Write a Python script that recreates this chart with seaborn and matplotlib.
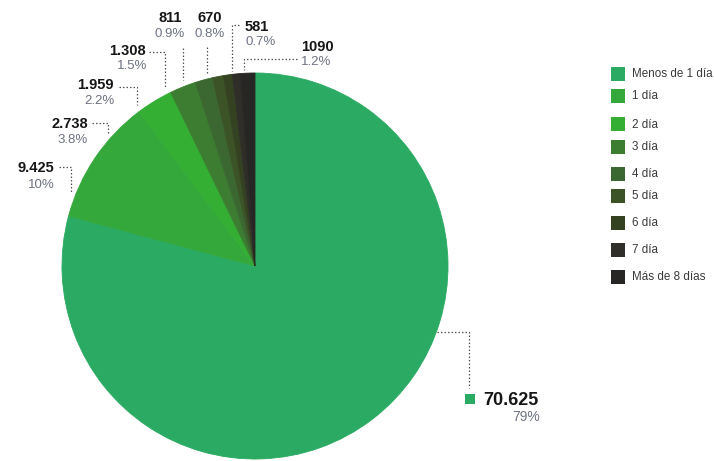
import matplotlib
matplotlib.use("Agg")
import matplotlib.pyplot as plt
import matplotlib.patches as mpatches
import seaborn as sns

# Data: days elapsed, case counts and the published percentages
categories = ["Menos de 1 día", "1 día", "2 día", "3 día", "4 día",
              "5 día", "6 día", "7 día", "Más de 8 días"]
counts = [70625, 9425, 2738, 1959, 1308, 811, 670, 581, 1090]
count_labels = ["70.625", "9.425", "2.738", "1.959", "1.308",
                "811", "670", "581", "1090"]
pct_labels = ["79%", "10%", "3.8%", "2.2%", "1.5%",
              "0.9%", "0.8%", "0.7%", "1.2%"]

colors = ["#2AAA62", "#35A83C", "#34AF33", "#3C7D32", "#3B6830",
          "#3C5328", "#354222", "#302E28", "#272624"]

sns.set_theme(style="white")
plt.rcParams["font.family"] = ["Liberation Sans", "DejaVu Sans"]

W, H = 714, 461
fig = plt.figure(figsize=(W / 100, H / 100), dpi=100)
ax = fig.add_axes([0, 0, 1, 1])


def P(x, y):
    """Pixel position (origin top-left) to data coordinates."""
    return x, H - y


cx, cy = P(255, 266)
wedges, _ = ax.pie(counts, colors=colors, startangle=90, counterclock=False,
                   center=(cx, cy), radius=193,
                   wedgeprops=dict(linewidth=0.6))
# stroke each wedge in its own colour so no seams show between slices
for w in wedges:
    w.set_edgecolor(w.get_facecolor())
ax.set_xlim(0, W)
ax.set_ylim(0, H)
ax.set_aspect("equal")
ax.axis("off")

num_color = "#161616"
pct_color = "#6E7383"
lead = dict(color="#555555", lw=0.9, linestyle=(0, (1.2, 1.6)))

# label layout: (number xy, number ha, percent xy, percent ha)
label_layout = {
    1: ((54, 168), "right", (55, 185.5), "right"),
    2: ((88, 123.5), "right", (88, 140), "right"),
    3: ((114, 85), "right", (115, 101), "right"),
    4: ((146, 51.5), "right", (147, 66), "right"),
    5: ((170, 18.5), "center", (170, 34), "center"),
    6: ((210, 18.5), "center", (210, 34), "center"),
    7: ((245, 27), "left", (245, 42.5), "left"),
    8: ((301, 47), "left", (301, 62.5), "left"),
}
# leader paths in pixel positions
leader_paths = {
    1: [(59, 167), (71, 167), (71, 192)],
    2: [(92, 123), (108, 123), (108, 134)],
    3: [(119, 87), (137, 87), (137, 105)],
    4: [(149, 52), (165, 52), (165, 87)],
    5: [(183, 48), (183, 80)],
    6: [(207, 47), (207, 73)],
    7: [(239, 25), (232, 25), (232, 71)],
    8: [(297, 59), (244, 59), (244, 70)],
    0: [(437, 332), (469, 332), (469, 388)],
}

for i, pts in leader_paths.items():
    xs, ys = zip(*[P(x, y) for x, y in pts])
    ax.plot(xs, ys, **lead)

for i, ((nx, ny), nha, (px, py), pha) in label_layout.items():
    ax.text(*P(nx, ny), count_labels[i], ha=nha, va="center",
            fontsize=10.5, fontweight="bold", color=num_color)
    ax.text(*P(px, py), pct_labels[i], ha=pha, va="center",
            fontsize=9.5, color=pct_color)

# large slice label with its colour marker
ax.add_patch(mpatches.Rectangle(P(465, 404), 10, 10, color=colors[0], lw=0))
ax.text(*P(539, 400.5), count_labels[0], ha="right", va="center",
        fontsize=13, fontweight="bold", color=num_color)
ax.text(*P(540, 417), pct_labels[0], ha="right", va="center",
        fontsize=10, color=pct_color)

# legend
legend_y = [73.7, 96.3, 124.5, 147, 173.7, 196, 223.3, 249.7, 276.7]
for cat, col, y in zip(categories, colors, legend_y):
    ax.add_patch(mpatches.Rectangle(P(611, y + 7), 14, 14, color=col, lw=0))
    ax.text(*P(632, y), cat, ha="left", va="center",
            fontsize=8.4, color="#3A3A3A")

fig.savefig("out.png", dpi=100, facecolor="white")
